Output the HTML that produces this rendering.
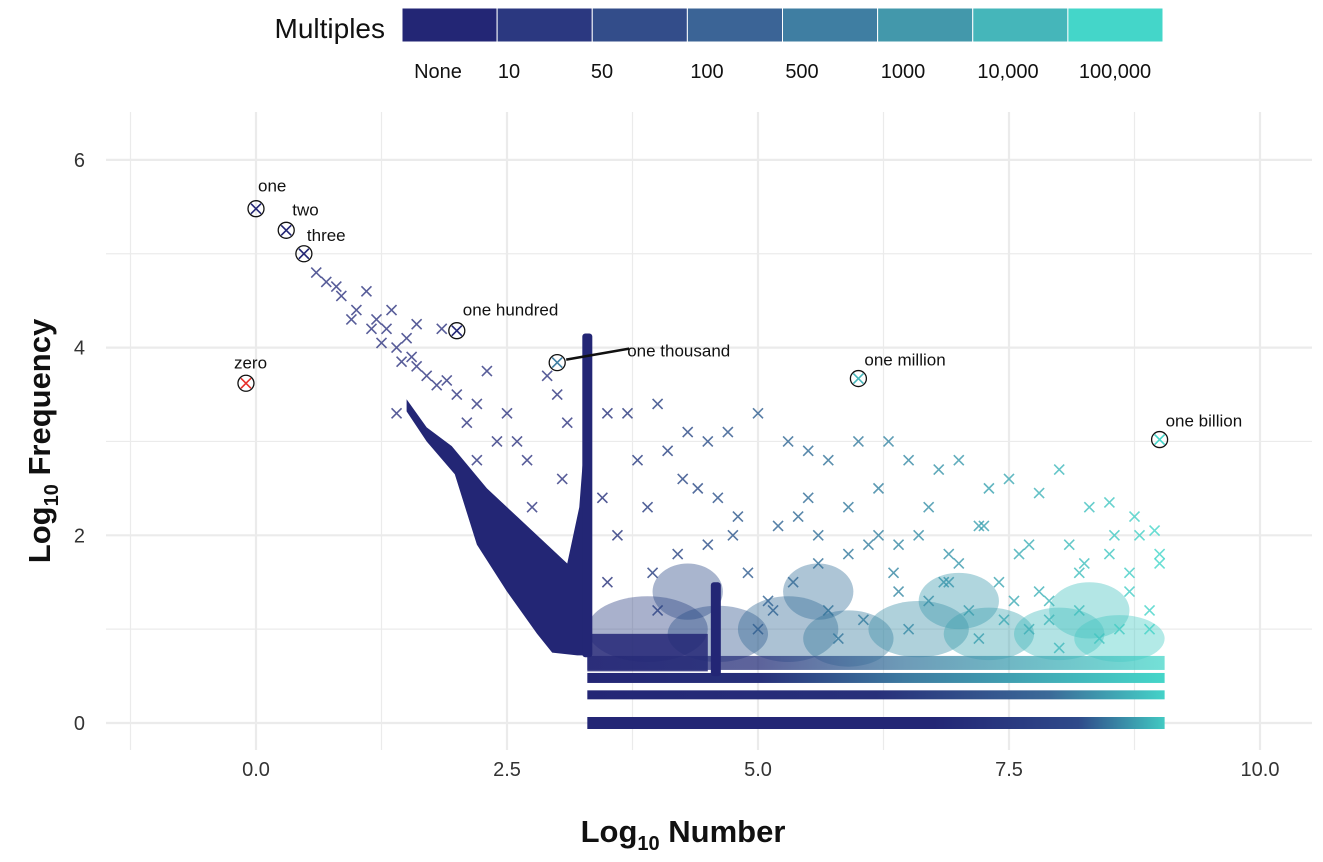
<!DOCTYPE html>
<html><head><meta charset="utf-8">
<style>
body{margin:0;background:#fff;font-family:"Liberation Sans",Arial,sans-serif;}
svg text{font-family:"Liberation Sans",Arial,sans-serif;}
</style></head>
<body>
<svg id="chart" width="1323" height="857" viewBox="0 0 1323 857" xmlns="http://www.w3.org/2000/svg">
<defs>
<linearGradient id="bandGrad0" x1="0" x2="1">
<stop offset="0" stop-color="#232675"/><stop offset="0.6" stop-color="#232675"/><stop offset="0.85" stop-color="#2f4a8a"/><stop offset="1" stop-color="#42c9c2"/></linearGradient>
<linearGradient id="bandGrad1" x1="0" x2="1">
<stop offset="0" stop-color="#232675"/><stop offset="0.5" stop-color="#28307a"/><stop offset="0.8" stop-color="#3b6a98"/><stop offset="1" stop-color="#44d2c8"/></linearGradient>
<linearGradient id="bandGrad2" x1="0" x2="1">
<stop offset="0" stop-color="#232675"/><stop offset="0.3" stop-color="#27307a"/><stop offset="0.55" stop-color="#3d7aa0"/><stop offset="1" stop-color="#45d6c9"/></linearGradient>
</defs>
<g id="legend"></g>
<g id="grid"></g>
<g id="marks"></g>
<g id="anno"></g>
<g id="axes"></g>
</svg>
<script>
// ---- data ----
const legendLabels=["None","10","50","100","500","1000","10,000","100,000"];
const legendColors=["#232675","#2b3880","#334d8a","#3b6496","#3f7ea2","#4398ab","#45b6ba","#44d6c9"];
const xTicks=[0,2.5,5,7.5,10];
const xTickLabels=["0.0","2.5","5.0","7.5","10.0"];
const yTicks=[0,2,4,6];
const scatterX=[0.6,0.7,0.85,1.0,1.1,1.2,1.3,1.35,1.4,1.5,1.55,1.6,1.7,1.8,1.9,2.0,1.85,2.2,2.3,2.5,2.6,2.7,2.9,3.0,3.1,2.4,2.2,1.6,1.4,0.95,1.15,2.1,2.75,3.05,0.8,1.25,1.45,
3.5,3.7,4.0,4.3,4.5,4.7,5.0,5.3,5.5,5.7,6.0,6.3,6.5,6.8,7.0,7.3,7.5,7.8,8.0,8.3,8.5,8.8,9.0,
3.8,4.1,4.4,4.8,5.2,5.5,5.9,6.2,6.6,7.0,7.4,7.8,8.2,8.6,3.6,4.2,4.9,5.6,6.4,7.1,7.7,8.4,8.9,
3.5,4.0,5.0,5.8,6.5,7.2,8.0,4.6,5.4,6.1,6.9,7.6,8.7,9.0,3.9,4.5,5.1,5.7,6.7,7.9,8.1,8.95,
4.25,4.75,5.35,6.05,6.35,7.25,7.55,8.25,8.55,3.45,3.95,5.15,6.85,7.45,8.75,
6.2,6.7,7.2,7.7,8.2,8.7,8.9,6.9,7.9,8.5,5.6,5.9,6.4];
const scatterY=[4.8,4.7,4.55,4.4,4.6,4.3,4.2,4.4,4.0,4.1,3.9,3.8,3.7,3.6,3.65,3.5,4.2,3.4,3.75,3.3,3.0,2.8,3.7,3.5,3.2,3.0,2.8,4.25,3.3,4.3,4.2,3.2,2.3,2.6,4.65,4.05,3.85,
3.3,3.3,3.4,3.1,3.0,3.1,3.3,3.0,2.9,2.8,3.0,3.0,2.8,2.7,2.8,2.5,2.6,2.45,2.7,2.3,2.35,2.0,1.8,
2.8,2.9,2.5,2.2,2.1,2.4,2.3,2.0,2.0,1.7,1.5,1.4,1.2,1.0,2.0,1.8,1.6,1.7,1.4,1.2,1.0,0.9,1.0,
1.5,1.2,1.0,0.9,1.0,0.9,0.8,2.4,2.2,1.9,1.8,1.8,1.6,1.7,2.3,1.9,1.3,1.2,1.3,1.1,1.9,2.05,
2.6,2.0,1.5,1.1,1.6,2.1,1.3,1.7,2.0,2.4,1.6,1.2,1.5,1.1,2.2,
2.5,2.3,2.1,1.9,1.6,1.4,1.2,1.5,1.3,1.8,2.0,1.8,1.9];
// dense clouds: centre x, centre y, radius x, radius y (data units)
const cloudX=[3.9,4.6,5.3,5.9,6.6,7.3,8.0,8.6,5.6,7.0,8.3,4.3];
const cloudY=[1.0,0.95,1.0,0.9,1.0,0.95,0.95,0.9,1.4,1.3,1.2,1.4];
const cloudRX=[0.6,0.5,0.5,0.45,0.5,0.45,0.45,0.45,0.35,0.4,0.4,0.35];
const cloudRY=[0.35,0.3,0.35,0.3,0.3,0.28,0.28,0.25,0.3,0.3,0.3,0.3];
const bandY=[0,0.3,0.48,0.64];
const bandStart=[3.3,3.3,3.3,3.3];
const bandEnd=[9.05,9.05,9.05,9.05];
const spikeX=[3.3,4.58];
const spikeTop=[4.15,1.5];
const spikeBottom=[0.7,0.5];
// wedge outline (x,y pairs of the navy diagonal streak)
const wedgeX=[1.5,1.7,1.95,2.3,2.6,2.85,3.1,3.22,3.27,3.33,3.33,3.2,2.95,2.8,2.5,2.2,1.98,1.7,1.5];
const wedgeY=[3.45,3.15,2.95,2.5,2.2,1.95,1.7,2.3,3.0,2.5,0.72,0.72,0.75,0.95,1.4,1.9,2.65,3.0,3.32];
const legendLabelX=[438,509,602,707,802,903,1008,1115];
const hlNames=["one","two","three","one hundred","one thousand","one million","one billion","zero"];
const hlX=[0,0.301,0.477,2,3,6,9,-0.1];
const hlY=[5.48,5.25,5.0,4.18,3.84,3.67,3.02,3.62];
const hlColor=["#232675","#232675","#232675","#232675","#3f7ea2","#45b6ba","#44d6c9","#e8302a"];
const hlLabelDX=[2,6,3,6,70,6,6,-12];
const hlLabelDY=[-22,-20,-18,-20,-11,-18,-18,-20];

// ---- scales ----
const X=v=>256+v*100.4;
const Y=v=>723-v*93.85;
const NS="http://www.w3.org/2000/svg";
function mk(tag,parent,attrs){const e=document.createElementNS(NS,tag);for(const k in attrs)e.setAttribute(k,attrs[k]);parent.appendChild(e);return e;}
function lerpColor(t){t=Math.max(0,Math.min(1,t));const a=[0x23,0x26,0x75],b=[0x44,0xd6,0xc9];return "rgb("+a.map((v,i)=>Math.round(v+(b[i]-v)*t)).join(",")+")";}
const colX=x=>lerpColor((x-3.2)/5.8);

// legend
const lg=document.getElementById('legend');
let t=mk('text',lg,{x:385,y:38,'font-size':28,'text-anchor':'end',fill:'#111'});t.textContent="Multiples";


const segW=(1163-402)/legendLabels.length;
legendLabels.forEach((l,i)=>{
 const r=mk('rect',lg,{x:402+i*segW,y:8,width:segW,height:34,fill:legendColors[i],stroke:'#fff','stroke-width':1});
 
 
 const tx=mk('text',lg,{x:legendLabelX[i],y:78,'font-size':20,'text-anchor':'middle',fill:'#111'});
 tx.textContent=l;
 
 
});

// grid
const g=document.getElementById('grid');
for(let v=-1.25;v<=10.01;v+=1.25){const l=mk('line',g,{x1:X(v),x2:X(v),y1:112,y2:750,stroke:'#ebebeb','stroke-width':(Math.abs(v/2.5-Math.round(v/2.5))<1e-6)?2.2:1.2});
 }
for(let v=0;v<=6.01;v+=1){const l=mk('line',g,{x1:106,x2:1312,y1:Y(v),y2:Y(v),stroke:'#ebebeb','stroke-width':v%2==0?2.2:1.2});
 }

// marks
const m=document.getElementById('marks');
function cross(x,y,c,s,parent,op){const p=mk('path',parent,{d:`M${x-s},${y-s}L${x+s},${y+s}M${x-s},${y+s}L${x+s},${y-s}`,stroke:c,'stroke-width':1.6,fill:'none',opacity:op||0.8});return p;}
cloudX.forEach((cx,i)=>{const e=mk('ellipse',m,{cx:X(cx),cy:Y(cloudY[i]),rx:cloudRX[i]*100.4,ry:cloudRY[i]*93.85,fill:colX(cx),opacity:0.4});
 });
const rr=mk('rect',m,{x:X(3.3),y:Y(0.95),width:X(4.5)-X(3.3),height:Y(0.55)-Y(0.95),fill:'#232675',opacity:0.85});

bandY.forEach((b,i)=>{const h=i==0?12:i==1?9:i==2?10:14;const r=mk('rect',m,{x:X(bandStart[i]),y:Y(b)-h/2,width:X(bandEnd[i])-X(bandStart[i]),height:h,fill:`url(#bandGrad${Math.min(i,2)})`,opacity:i==3?0.75:1});
 });
const wp=mk('polygon',m,{points:wedgeX.map((x,i)=>X(x)+','+Y(wedgeY[i])).join(' '),fill:'#232675'});

spikeX.forEach((sx,i)=>{const r=mk('rect',m,{x:X(sx)-5,y:Y(spikeTop[i]),width:10,height:Y(spikeBottom[i])-Y(spikeTop[i]),fill:'#232675',rx:3});
 });
scatterX.forEach((x,i)=>{const p=cross(X(x),Y(scatterY[i]),x<3.25?'#2e3480':colX(x),5,m);
 });

// highlights
const an=document.getElementById('anno');
hlNames.forEach((n,i)=>{const cx=X(hlX[i]),cy=Y(hlY[i]);
 const cc=cross(cx,cy,hlColor[i],5,an,1);
 const c=mk('circle',an,{cx,cy,r:8,fill:'none',stroke:'#111','stroke-width':1.3});
 
 const tx=mk('text',an,{x:cx+hlLabelDX[i],y:cy+hlLabelDY[i]+5,'font-size':17,fill:'#111'});tx.textContent=n;
 
});
const ld=mk('line',an,{x1:X(3)+9,y1:Y(3.84)-3,x2:X(3)+72,y2:Y(3.84)-14,stroke:'#111','stroke-width':2.5});


// axes labels
const ax=document.getElementById('axes');
xTicks.forEach((v,i)=>{const tx=mk('text',ax,{x:X(v),y:776,'font-size':20,'text-anchor':'middle',fill:'#333'});tx.textContent=xTickLabels[i];
 });
yTicks.forEach(v=>{const tx=mk('text',ax,{x:85,y:Y(v)+7,'font-size':20,'text-anchor':'end',fill:'#333'});tx.textContent=v;
 });
const xt=mk('text',ax,{x:683,y:842,'font-size':31,'font-weight':'bold','text-anchor':'middle',fill:'#111'});
xt.innerHTML='Log<tspan font-size="20" dy="8">10</tspan><tspan dy="-8"> Number</tspan>';

const yt=mk('text',ax,{x:0,y:0,'font-size':31,'font-weight':'bold','text-anchor':'middle',fill:'#111',transform:'translate(50,441) rotate(-90)'});
yt.innerHTML='Log<tspan font-size="20" dy="8">10</tspan><tspan dy="-8"> Frequency</tspan>';

</script>
</body></html>
